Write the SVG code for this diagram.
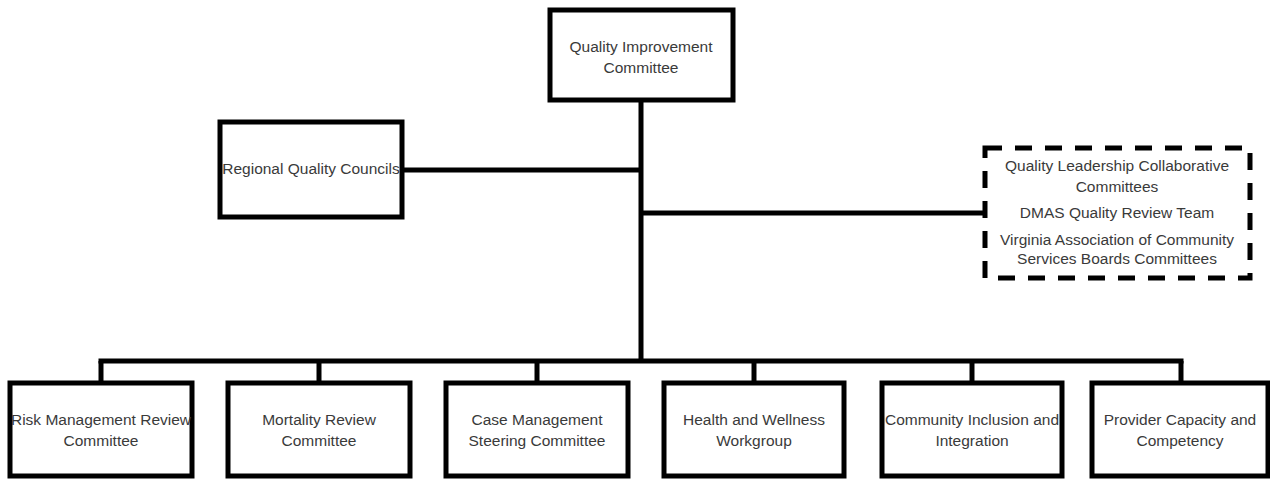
<svg xmlns="http://www.w3.org/2000/svg" width="1270" height="479" viewBox="0 0 1270 479">
<style>
.box{fill:#fff;stroke:#000;stroke-width:5}
.dash{fill:#fff;stroke:#000;stroke-width:5;stroke-dasharray:17 13}
.ln{stroke:#000;stroke-width:5;fill:none}
text{font-family:"Liberation Sans",Arial,sans-serif;font-size:15.5px;fill:#3a3a3a;text-anchor:middle}
</style>
<rect width="1270" height="479" fill="#fff"/>
<g id="connectors">
<line class="ln" x1="641" y1="100" x2="641" y2="361"/>
<line class="ln" x1="402" y1="170" x2="641" y2="170"/>
<line class="ln" x1="641" y1="213" x2="985" y2="213"/>
<line class="ln" x1="98.5" y1="361" x2="1183.5" y2="361"/>
<line class="ln" x1="101" y1="361" x2="101" y2="383"/>
<line class="ln" x1="319" y1="361" x2="319" y2="383"/>
<line class="ln" x1="537" y1="361" x2="537" y2="383"/>
<line class="ln" x1="754" y1="361" x2="754" y2="383"/>
<line class="ln" x1="972" y1="361" x2="972" y2="383"/>
<line class="ln" x1="1181" y1="361" x2="1181" y2="383"/>
</g>
<g id="qic">
<rect class="box" x="550" y="10" width="183" height="90"/>
<text x="641" y="52">Quality Improvement</text>
<text x="641" y="73">Committee</text>
</g>
<g id="rqc">
<rect class="box" x="220" y="122" width="182" height="95"/>
<text x="311" y="174">Regional Quality Councils</text>
</g>
<g id="external">
<rect class="dash" x="985" y="148" width="265" height="130"/>
<text x="1117" y="171">Quality Leadership Collaborative</text>
<text x="1117" y="192">Committees</text>
<text x="1117" y="218">DMAS Quality Review Team</text>
<text x="1117" y="245">Virginia Association of Community</text>
<text x="1117" y="264">Services Boards Committees</text>
</g>
<g id="risk">
<rect class="box" x="10" y="383" width="182" height="93"/>
<text x="101" y="425">Risk Management Review</text>
<text x="101" y="446">Committee</text>
</g>
<g id="mortality">
<rect class="box" x="228" y="383" width="182" height="93"/>
<text x="319" y="425">Mortality Review</text>
<text x="319" y="446">Committee</text>
</g>
<g id="case">
<rect class="box" x="446" y="383" width="182" height="93"/>
<text x="537" y="425">Case Management</text>
<text x="537" y="446">Steering Committee</text>
</g>
<g id="health">
<rect class="box" x="664" y="383" width="180" height="93"/>
<text x="754" y="425">Health and Wellness</text>
<text x="754" y="446">Workgroup</text>
</g>
<g id="community">
<rect class="box" x="882" y="383" width="180" height="93"/>
<text x="972" y="425">Community Inclusion and</text>
<text x="972" y="446">Integration</text>
</g>
<g id="provider">
<rect class="box" x="1092" y="383" width="176" height="93"/>
<text x="1180" y="425">Provider Capacity and</text>
<text x="1180" y="446">Competency</text>
</g>
</svg>
